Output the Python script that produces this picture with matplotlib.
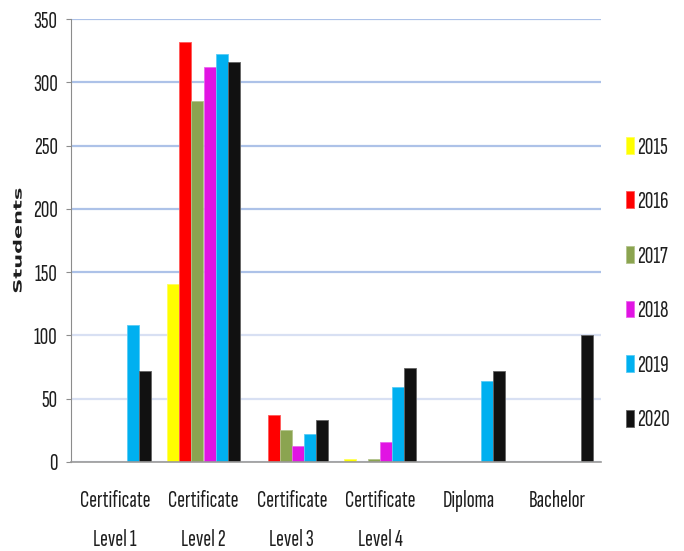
import matplotlib
matplotlib.use("Agg")
import matplotlib.pyplot as plt
import numpy as np
from matplotlib.colors import to_rgb
from matplotlib.patheffects import AbstractPathEffect
from matplotlib.transforms import Affine2D

levels = ["Certificate\nLevel 1", "Certificate\nLevel 2", "Certificate\nLevel 3",
          "Certificate\nLevel 4", "Diploma", "Bachelor"]
years = ["2015", "2016", "2017", "2018", "2019", "2020"]
s2015 = [0, 141, 0, 2, 0, 0]
s2016 = [0, 332, 37, 0, 0, 0]
s2017 = [0, 285, 25, 2, 0, 0]
s2018 = [0, 312, 13, 16, 0, 0]
s2019 = [108, 322, 22, 59, 64, 0]
s2020 = [72, 316, 33, 74, 72, 100]
series = [s2015, s2016, s2017, s2018, s2019, s2020]
colors = ["#ffff00", "#ff0000", "#8ba450", "#e114e3", "#00b0f0", "#111111"]
yticks = [0, 50, 100, 150, 200, 250, 300, 350]

TXT = "#1e1e1e"
NARROW = ["Sofia Sans Extra Condensed", "DejaVu Sans"]


class Squeeze(AbstractPathEffect):
    """Flatten glyphs horizontally about their own centre."""
    def __init__(self, sx=0.55):
        super().__init__()
        self.sx = sx

    def draw_path(self, renderer, gc, tpath, affine, rgbFace=None):
        box = tpath.get_extents(affine)
        x0 = (box.x0 + box.x1) / 2
        t = affine + Affine2D().translate(-x0, 0).scale(self.sx, 1).translate(x0, 0)
        renderer.draw_path(gc, tpath, t, rgbFace)


def lighter(c, k=0.35):
    r = np.array(to_rgb(c))
    return tuple(r + (1 - r) * k)


fig = plt.figure(figsize=(6.84, 5.51), dpi=100)
ax = fig.add_axes([71 / 684, 89 / 551, 530 / 684, 443 / 551])

x = np.arange(len(levels))
w = 0.136
bars = []
for j, (vals, c) in enumerate(zip(series, colors)):
    b = ax.bar(x + (j - 2.5) * w, vals, width=w, color=c,
               edgecolor=lighter(c), linewidth=0.6, label=years[j], zorder=2)
    bars.append(b)

ax.set_xlim(-0.5, len(levels) - 0.5)
ax.set_ylim(0, 350)
ax.set_yticks(yticks)
ax.set_xticks(x)
ax.set_xticklabels(levels, fontsize=17, family=NARROW, color=TXT, linespacing=1.95)
ax.set_yticklabels([str(v) for v in yticks], fontsize=17, family=NARROW, color=TXT)
ax.tick_params(axis="x", length=0, pad=20.5)
ax.tick_params(axis="y", length=3.6, width=0.8, color="#8c8c8c", pad=6)

ax.yaxis.grid(True, linewidth=1.6, zorder=0)
ax.set_axisbelow(True)
for v, gl in zip(yticks, ax.yaxis.get_gridlines()):
    gl.set_color("#adc2e8" if v >= 150 else "#d8e0f3")

for s in ["top", "right"]:
    ax.spines[s].set_visible(False)
ax.spines["left"].set_color("#8c8c8c")
ax.spines["left"].set_linewidth(0.8)
ax.spines["bottom"].set_color("#9a9a9a")
ax.spines["bottom"].set_linewidth(1.2)
ax.spines["bottom"].set_zorder(3)

yl = ax.set_ylabel("Students", fontsize=15, fontweight="bold", family="DejaVu Sans",
                   color=TXT, va="center")
ax.yaxis.set_label_coords(-0.098, 0.5)
yl.set_path_effects([Squeeze(0.55)])

leg = fig.legend(handles=[b[0] for b in bars], labels=years, loc="center left",
                 bbox_to_anchor=(626 / 684, (551 - 284) / 551), frameon=False,
                 borderpad=0, borderaxespad=0, handlelength=0.34, handleheight=0.72,
                 handletextpad=0.12, labelspacing=1.38,
                 prop={"family": NARROW, "size": 17})
for t in leg.get_texts():
    t.set_color(TXT)

fig.savefig("out.png", dpi=100, facecolor="white")
